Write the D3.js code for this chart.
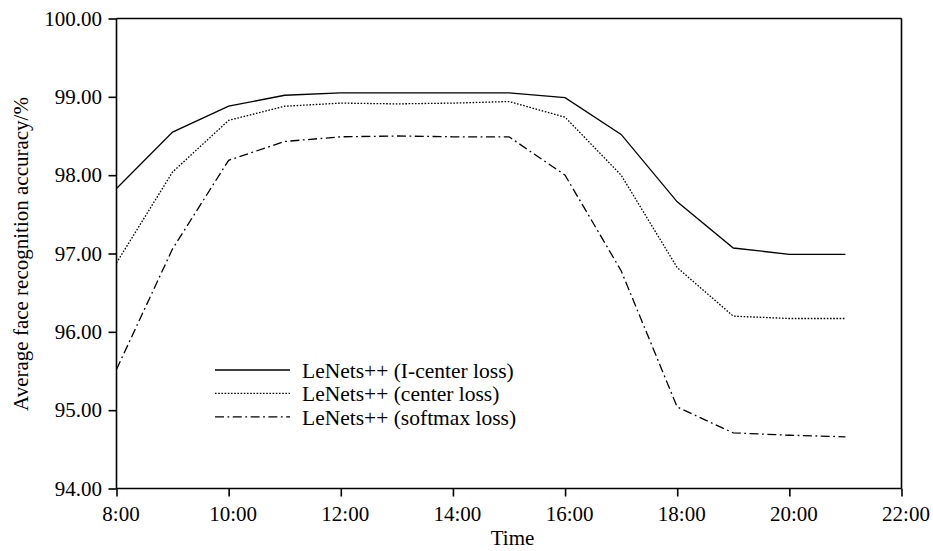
<!DOCTYPE html>
<html>
<head>
<meta charset="utf-8">
<script src="https://cdn.jsdelivr.net/npm/d3@7"></script>
<style>
  body { margin: 0; background: #fff; }
  svg { display: block; font-family: "Liberation Serif", "DejaVu Serif", serif; }
</style>
</head>
<body>
<svg width="933" height="551"></svg>
<script>
// Hours of the day (x values)
const hours = [8, 9, 10, 11, 12, 13, 14, 15, 16, 17, 18, 19, 20, 21];

// Average accuracy per method
const iCenterLoss = [97.83, 98.55, 98.88, 99.02, 99.05, 99.05, 99.05, 99.05, 98.99, 98.52, 97.66, 97.07, 96.99, 96.99];
const centerLoss  = [96.88, 98.04, 98.70, 98.88, 98.92, 98.91, 98.92, 98.94, 98.74, 98.00, 96.82, 96.20, 96.17, 96.17];
const softmaxLoss = [95.52, 97.06, 98.19, 98.43, 98.49, 98.50, 98.49, 98.49, 98.00, 96.78, 95.04, 94.71, 94.68, 94.66];

const seriesNames = ["LeNets++ (I-center loss)", "LeNets++ (center loss)", "LeNets++ (softmax loss)"];
const xTicks = [8, 10, 12, 14, 16, 18, 20, 22];
const yTicks = [94, 95, 96, 97, 98, 99, 100];

const svg = d3.select("svg");
const mLeft = 116.5, mRight = 901.5, mTop = 18.5, mBottom = 488.5;
const fontSize = "21px";

const x = d3.scaleLinear().domain([8, 22]).range([mLeft, mRight]);
const y = d3.scaleLinear().domain([94, 100]).range([mBottom, mTop]);

// Dash styles per series
const dashes = [null, "1.6,1.6", "9,3.5,1.8,3.5"];
const allSeries = [iCenterLoss, centerLoss, softmaxLoss];

// Frame: top and right border lines
svg.append("line")
    .attr("x1", mLeft).attr("x2", mRight)
    .attr("y1", mTop).attr("y2", mTop)
    .attr("stroke", "#000").attr("stroke-width", 1.6);
svg.append("line")
    .attr("x1", mRight).attr("x2", mRight)
    .attr("y1", mTop).attr("y2", mBottom)
    .attr("stroke", "#000").attr("stroke-width", 1.6);

// x axis
const xAxis = d3.axisBottom(x)
    .tickValues(xTicks)
    .tickFormat(d => d + ":00")
    .tickSize(8)
    .tickPadding(10);
const gx = svg.append("g")
    .attr("transform", `translate(0,${mBottom})`)
    .call(xAxis);
gx.selectAll(".tick text").attr("dx", 4);  // labels sit a bit right of the ticks

// y axis
const yAxis = d3.axisLeft(y)
    .tickValues(yTicks)
    .tickFormat(d3.format(".2f"))
    .tickSize(8)
    .tickPadding(6.5);
const gy = svg.append("g")
    .attr("transform", `translate(${mLeft},0)`)
    .call(yAxis);

[gx, gy].forEach(g => {
    g.select(".domain").attr("stroke", "#000").attr("stroke-width", 1.6);
    g.selectAll(".tick line").attr("stroke", "#000").attr("stroke-width", 1.6);
    g.selectAll(".tick text")
        .attr("fill", "#000")
        .style("font-family", "Liberation Serif, serif")
        .style("font-size", fontSize);
});
gy.select(".domain").attr("d", `M0,${mBottom}V${mTop}`);
gx.select(".domain").attr("d", `M${mLeft},0H${mRight}`);

// Lines
const line = d3.line()
    .x((d, i) => x(hours[i]))
    .y(d => y(d));

allSeries.forEach((s, k) => {
    svg.append("path")
        .datum(s)
        .attr("d", line)
        .attr("fill", "none")
        .attr("stroke", "#000")
        .attr("stroke-width", 1.3)
        .attr("stroke-dasharray", dashes[k]);
});

// Legend
const legend = svg.append("g");
seriesNames.forEach((name, k) => {
    const ly = 370 + k * 23.4;
    legend.append("line")
        .attr("x1", 215).attr("x2", 290)
        .attr("y1", ly).attr("y2", ly)
        .attr("stroke", "#000")
        .attr("stroke-width", 1.3)
        .attr("stroke-dasharray", dashes[k]);
    legend.append("text")
        .attr("x", 302)
        .attr("y", ly + 8)
        .style("font-size", "21.5px")
        .text(name);
});

// Axis titles
svg.append("text")
    .attr("x", 512.5)
    .attr("y", 545)
    .attr("text-anchor", "middle")
    .style("font-size", fontSize)
    .text("Time");

svg.append("text")
    .attr("transform", `translate(28,254) rotate(-90)`)
    .attr("text-anchor", "middle")
    .style("font-size", fontSize)
    .text("Average face recognition accuracy/%");
</script>
</body>
</html>
